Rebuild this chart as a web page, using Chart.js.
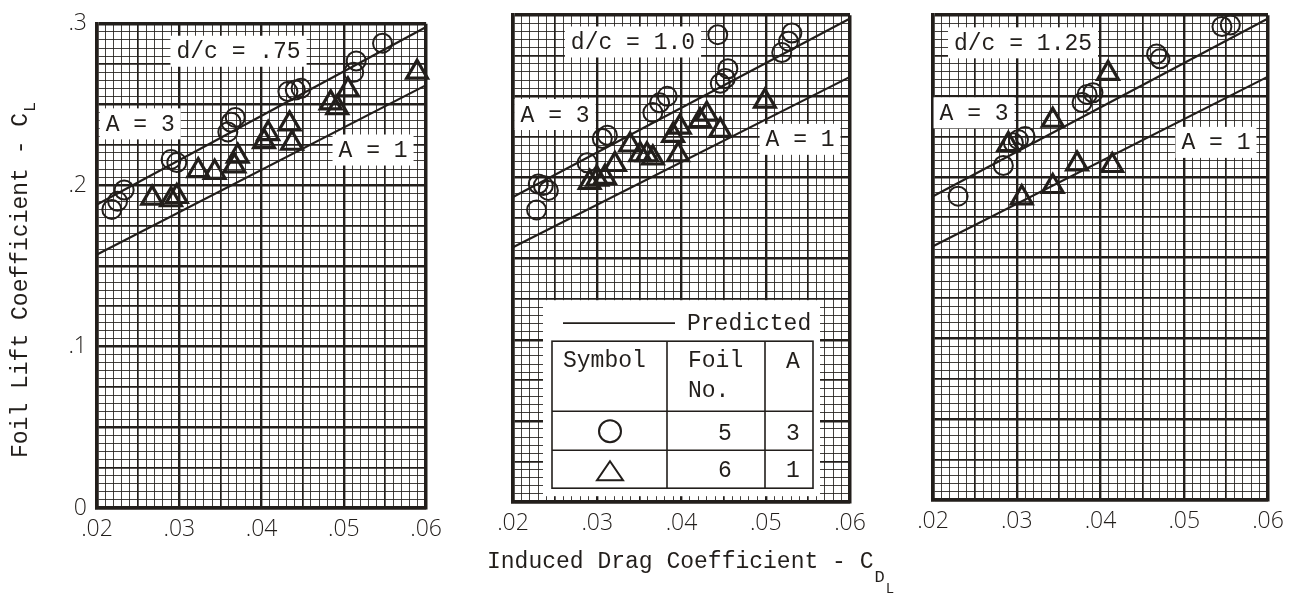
<!DOCTYPE html>
<html>
<head>
<meta charset="utf-8">
<script src="https://cdn.jsdelivr.net/npm/chart.js@4.4.1/dist/chart.umd.min.js"></script>
<style>
  html, body { margin: 0; padding: 0; background: #ffffff; }
  body { width: 1302px; height: 598px; position: relative; overflow: hidden; }
  canvas { position: absolute; top: 0; }
</style>
</head>
<body>
<canvas id="panelA" width="450" height="560" style="left:0px"></canvas>
<canvas id="panelB" width="452" height="598" style="left:450px"></canvas>
<canvas id="panelC" width="400" height="560" style="left:902px"></canvas>
<script>
// ---- tick labels ----
const xTickLabels = ['.02', '.03', '.04', '.05', '.06'];
const yTickLabels = ['0', '.1', '.2', '.3'];

// ---- predicted curves (straight lines across the drag range) ----
const predictedX = [0.02, 0.06];
const predictedA3 = [0.188, 0.298];
const predictedA1 = [0.157, 0.262];

// ---- d/c = .75 ----
const foil5X_075 = [0.0218, 0.0225, 0.0233, 0.0290, 0.0297, 0.0359, 0.0363, 0.0368, 0.0432, 0.0441, 0.0448, 0.0512, 0.0515, 0.0547];
const foil5Y_075 = [0.185, 0.190, 0.197, 0.216, 0.214, 0.233, 0.239, 0.242, 0.258, 0.259, 0.260, 0.270, 0.277, 0.288];
const foil6X_075 = [0.0267, 0.0290, 0.0297, 0.0323, 0.0343, 0.0367, 0.0371, 0.0403, 0.0408, 0.0434, 0.0437, 0.0484, 0.0492, 0.0505, 0.0589];
const foil6Y_075 = [0.192, 0.191, 0.193, 0.209, 0.208, 0.212, 0.218, 0.227, 0.232, 0.238, 0.226, 0.251, 0.248, 0.259, 0.270];

// ---- d/c = 1.0 ----
const foil5X_100 = [0.0228, 0.0230, 0.0236, 0.0242, 0.0288, 0.0306, 0.0312, 0.0366, 0.0374, 0.0383, 0.0443, 0.0446, 0.0452, 0.0455, 0.0519, 0.0527, 0.0531];
const foil5Y_100 = [0.180, 0.196, 0.195, 0.192, 0.209, 0.224, 0.226, 0.240, 0.246, 0.250, 0.288, 0.258, 0.261, 0.267, 0.277, 0.284, 0.289];
const foil6X_100 = [0.0291, 0.0300, 0.0309, 0.0321, 0.0339, 0.0351, 0.0359, 0.0366, 0.0390, 0.0396, 0.0398, 0.0422, 0.0430, 0.0446, 0.0499];
const foil6Y_100 = [0.197, 0.199, 0.200, 0.208, 0.220, 0.214, 0.214, 0.212, 0.226, 0.214, 0.231, 0.235, 0.239, 0.229, 0.247];

// ---- d/c = 1.25 ----
const foil5X_125 = [0.0230, 0.0284, 0.0296, 0.0302, 0.0310, 0.0378, 0.0384, 0.0391, 0.0467, 0.0471, 0.0545, 0.0555];
const foil5Y_125 = [0.188, 0.207, 0.221, 0.223, 0.225, 0.246, 0.251, 0.252, 0.276, 0.273, 0.293, 0.294];
const foil6X_125 = [0.0290, 0.0306, 0.0343, 0.0343, 0.0372, 0.0409, 0.0414];
const foil6Y_125 = [0.220, 0.187, 0.235, 0.194, 0.208, 0.264, 0.207];

// ---- styling ----
const ink = '#221e1b';
const monoFont = '"Liberation Mono", "DejaVu Sans Mono", monospace';
const tickFont = '"Open Sans", "DejaVu Sans", sans-serif';

const pairs = (xs, ys) => xs.map((v, i) => ({ x: v, y: ys[i] }));

// graph-paper weights: fine / every fifth / every tenth / frame edge
function gridWidth(i, last) {
  if (i === 0 || i === last) return 3.5;
  if (i % 10 === 0) return 2.4;
  if (i % 5 === 0) return 1.7;
  return 1;
}
function gridColor(i) {
  if (i % 5 === 0) return ink;
  return 'rgba(34,30,27,0.85)';
}

// white label boxes laid over the paper
const tagPlugin = {
  id: 'tags',
  beforeDatasetsDraw(chart, args, opts) {
    const { ctx, scales: { x, y } } = chart;
    (opts.items || []).forEach(t => {
      const cx = x.getPixelForValue(t.x);
      const cy = y.getPixelForValue(t.y);
      ctx.save();
      ctx.font = '23px ' + monoFont;
      const w = ctx.measureText(t.text).width + 12;
      const h = 31;
      ctx.fillStyle = '#ffffff';
      ctx.fillRect(cx - w / 2, cy - h / 2, w, h);
      ctx.fillStyle = ink;
      ctx.textAlign = 'center';
      ctx.textBaseline = 'middle';
      ctx.fillText(t.text, cx, cy + 1);
      ctx.restore();
    });
  }
};

// key table: predicted line, symbol / foil / aspect ratio
const keyPlugin = {
  id: 'keyTable',
  afterDatasetsDraw(chart, args, opts) {
    if (!opts.show) return;
    const { ctx, chartArea } = chart;
    const L = chartArea.left + 30, T = chartArea.top + 285;
    ctx.save();
    ctx.fillStyle = '#ffffff';
    ctx.fillRect(L, T, 277, 196);
    ctx.strokeStyle = ink;
    ctx.fillStyle = ink;
    // predicted line sample
    ctx.lineWidth = 1.8;
    ctx.beginPath(); ctx.moveTo(L + 20, T + 23); ctx.lineTo(L + 132, T + 23); ctx.stroke();
    ctx.font = '23px ' + monoFont;
    ctx.textBaseline = 'alphabetic';
    ctx.textAlign = 'left';
    ctx.fillText('Predicted', L + 144, T + 30);
    // table frame
    ctx.lineWidth = 1.6;
    ctx.strokeRect(L + 9, T + 41, 261, 147);
    ctx.beginPath();
    ctx.moveTo(L + 124, T + 41); ctx.lineTo(L + 124, T + 188);
    ctx.moveTo(L + 222, T + 41); ctx.lineTo(L + 222, T + 188);
    ctx.moveTo(L + 9, T + 111); ctx.lineTo(L + 270, T + 111);
    ctx.moveTo(L + 9, T + 150); ctx.lineTo(L + 270, T + 150);
    ctx.stroke();
    // header
    ctx.fillText('Symbol', L + 20, T + 67);
    ctx.fillText('Foil', L + 145, T + 67);
    ctx.fillText('No.', L + 145, T + 97);
    ctx.textAlign = 'center';
    ctx.fillText('A', L + 250, T + 68);
    // rows
    ctx.fillText('5', L + 182, T + 140);
    ctx.fillText('3', L + 250, T + 140);
    ctx.fillText('6', L + 182, T + 177);
    ctx.fillText('1', L + 250, T + 177);
    ctx.lineWidth = 2;
    ctx.beginPath(); ctx.arc(L + 67, T + 131, 11, 0, Math.PI * 2); ctx.stroke();
    ctx.beginPath();
    ctx.moveTo(L + 67, T + 161); ctx.lineTo(L + 80, T + 180); ctx.lineTo(L + 54, T + 180); ctx.closePath();
    ctx.stroke();
    ctx.restore();
  }
};

// axis titles with subscripts
const titlePlugin = {
  id: 'axisTitles',
  afterDraw(chart, args, opts) {
    const { ctx } = chart;
    ctx.save();
    ctx.fillStyle = ink;
    ctx.textAlign = 'left';
    ctx.textBaseline = 'alphabetic';
    if (opts.yTitle) {
      ctx.save();
      ctx.translate(27, 458);
      ctx.rotate(-Math.PI / 2);
      ctx.font = '23px ' + monoFont;
      const main = 'Foil Lift Coefficient - C';
      ctx.fillText(main, 0, 0);
      const w = ctx.measureText(main).width;
      ctx.font = '17px ' + monoFont;
      ctx.fillText('L', w + 1, 8);
      ctx.restore();
    }
    if (opts.xTitle) {
      ctx.font = '23px ' + monoFont;
      const main = 'Induced Drag Coefficient - C';
      const x0 = 37, base = 568;
      ctx.fillText(main, x0, base);
      const w = ctx.measureText(main).width;
      ctx.font = '17px ' + monoFont;
      ctx.fillText('D', x0 + w + 1, base + 14);
      const wd = ctx.measureText('D').width;
      ctx.font = '14px ' + monoFont;
      ctx.fillText('L', x0 + w + wd + 2, base + 25);
    }
    ctx.restore();
  }
};

function makePanel(id, cfg) {
  const lineSet = (ys, label) => ({
    label, data: pairs(predictedX, ys), showLine: true, borderColor: ink,
    borderWidth: 2.2, pointRadius: 0, fill: false, order: 2
  });
  new Chart(document.getElementById(id), {
    type: 'scatter',
    data: {
      datasets: [
        {
          label: 'Foil 5 (A = 3)', data: pairs(cfg.cx, cfg.cy), pointStyle: 'circle',
          pointRadius: 9.5, borderColor: ink, backgroundColor: 'rgba(0,0,0,0)', borderWidth: 2,
          clip: false, order: 0
        },
        {
          label: 'Foil 6 (A = 1)', data: pairs(cfg.tx, cfg.ty), pointStyle: 'triangle',
          pointRadius: 12, borderColor: ink, backgroundColor: 'rgba(0,0,0,0)', borderWidth: 3.2,
          clip: false, order: 1
        },
        lineSet(predictedA3, 'Predicted A = 3'),
        lineSet(predictedA1, 'Predicted A = 1')
      ]
    },
    options: {
      responsive: false,
      animation: false,
      events: [],
      devicePixelRatio: 1,
      layout: { padding: { top: cfg.padTop, right: cfg.padRight, left: 0, bottom: 0 } },
      scales: {
        x: {
          type: 'linear', min: 0.02, max: 0.06,
          afterFit: s => { s.height = cfg.xAxisHeight; },
          ticks: {
            stepSize: 0.001, autoSkip: false, maxRotation: 0, padding: 8,
            color: ink, font: { family: tickFont, size: 23, weight: '300' },
            callback: v => {
              const i = Math.round((v - 0.02) * 1000);
              return i % 10 === 0 ? xTickLabels[i / 10] : '';
            }
          },
          grid: {
            drawTicks: false,
            lineWidth: c => gridWidth(Math.round(((c.tick ? c.tick.value : 0.02) - 0.02) * 1000), 40),
            color: c => gridColor(Math.round(((c.tick ? c.tick.value : 0.02) - 0.02) * 1000))
          },
          border: { display: true, width: 3.5, color: ink }
        },
        y: {
          type: 'linear', min: 0, max: 0.3,
          afterFit: s => { s.width = cfg.yAxisWidth; },
          ticks: {
            display: cfg.showY, stepSize: 0.005, autoSkip: false, padding: 10,
            color: ink, font: { family: tickFont, size: 23, weight: '300' },
            callback: v => {
              const i = Math.round(v * 200);
              return i % 20 === 0 ? yTickLabels[i / 20] : '';
            }
          },
          grid: {
            drawTicks: false,
            lineWidth: c => gridWidth(Math.round((c.tick ? c.tick.value : 0) * 200), 60),
            color: c => gridColor(Math.round((c.tick ? c.tick.value : 0) * 200))
          },
          border: { display: true, width: 3.5, color: ink }
        }
      },
      plugins: {
        legend: { display: false },
        tooltip: { enabled: false },
        tags: { items: cfg.tags },
        keyTable: { show: !!cfg.key },
        axisTitles: { yTitle: !!cfg.yTitle, xTitle: !!cfg.xTitle }
      }
    },
    plugins: [tagPlugin, keyPlugin, titlePlugin]
  });
}

makePanel('panelA', {
  cx: foil5X_075, cy: foil5Y_075, tx: foil6X_075, ty: foil6Y_075,
  yAxisWidth: 97, xAxisHeight: 52, padTop: 13, padRight: 18, showY: true, yTitle: true,
  tags: [
    { text: 'd/c = .75', x: 0.0372, y: 0.283 },
    { text: 'A = 3', x: 0.02525, y: 0.238 },
    { text: 'A = 1', x: 0.05355, y: 0.2218 }
  ]
});

makePanel('panelB', {
  cx: foil5X_100, cy: foil5Y_100, tx: foil6X_100, ty: foil6Y_100,
  yAxisWidth: 63, xAxisHeight: 96, padTop: 12, padRight: 52, showY: false, xTitle: true, key: true,
  tags: [
    { text: 'd/c = 1.0', x: 0.03424, y: 0.2835 },
    { text: 'A = 3', x: 0.0250, y: 0.2388 },
    { text: 'A = 1', x: 0.05407, y: 0.2235 }
  ]
});

makePanel('panelC', {
  cx: foil5X_125, cy: foil5Y_125, tx: foil6X_125, ty: foil6Y_125,
  yAxisWidth: 31, xAxisHeight: 60, padTop: 8, padRight: 34, showY: false,
  tags: [
    { text: 'd/c = 1.25', x: 0.03075, y: 0.2829 },
    { text: 'A = 3', x: 0.0249, y: 0.2396 },
    { text: 'A = 1', x: 0.05379, y: 0.2213 }
  ]
});
</script>
</body>
</html>
